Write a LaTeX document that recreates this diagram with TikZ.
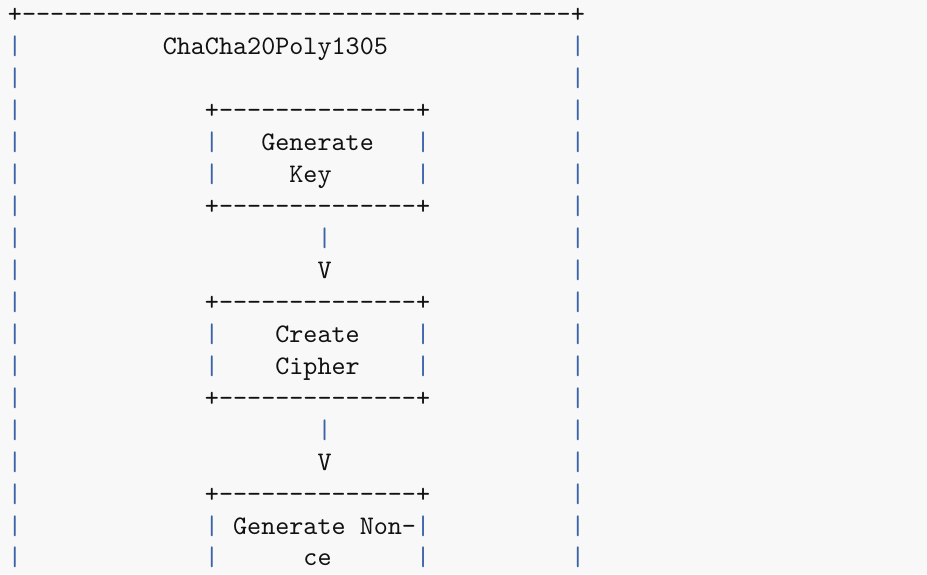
\documentclass[tikz,border=0pt]{standalone}
\definecolor{bg}{HTML}{F8F8F8}
\definecolor{barblue}{HTML}{3B64A8}
\definecolor{ink}{HTML}{111111}
\font\bigtt="[lmmono10-regular]" at 26.8pt
\newcommand\chw{14.07}
\newcommand\rowh{31.94}
\newcount\dcnt
\newcommand\dashes[1]{\dcnt=#1\relax\loop -\kern0pt\advance\dcnt by -1 \ifnum\dcnt>0 \repeat}
\tikzset{
  ch/.style={anchor=base west, inner sep=0pt, outer sep=0pt,
    font=\bigtt, text=ink},
  barch/.style={ch, text=barblue}
}
\newcommand\tok[4]{\node[ch] (#1) at ({8+\chw*(#2)},{551-\rowh*(#3)}) {#4};}
\newcommand\bartok[3]{\node[barch] (#1) at ({8+\chw*(#2)},{551-\rowh*(#3)}) {|};}
\begin{document}
\begin{tikzpicture}[x=1pt,y=1pt]
\fill[bg] (0,0) rectangle (927,574);
\useasboundingbox (0,0) rectangle (927,574);
% outer frame
\tok{tl}{0}{0}{+}
\tok{top}{1}{0}{\dashes{39}}
\tok{tr}{40}{0}{+}
\foreach \r in {1,...,17}{\bartok{ol\r}{0}{\r}\bartok{or\r}{40}{\r}}
\tok{title}{11}{1}{ChaCha20Poly1305}
% box borders
\foreach \r/\n in {3/a,6/b,9/c,12/d,15/e}{%
  \tok{pl\n}{14}{\r}{+}\tok{pm\n}{15}{\r}{\dashes{14}}\tok{pr\n}{29}{\r}{+}}
\foreach \r in {4,5,10,11,16,17}{\bartok{bl\r}{14}{\r}\bartok{br\r}{29}{\r}}
% box texts
\tok{genkey1}{18}{4}{Generate}
\tok{genkey2}{20}{5}{Key}
\tok{cipher1}{19}{10}{Create}
\tok{cipher2}{19}{11}{Cipher}
\tok{nonce1}{16}{16}{Generate Non-}
\tok{nonce2}{21}{17}{ce}
% connectors
\bartok{c1}{22}{7}
\tok{v1}{22}{8}{V}
\bartok{c2}{22}{13}
\tok{v2}{22}{14}{V}
\end{tikzpicture}
\end{document}
